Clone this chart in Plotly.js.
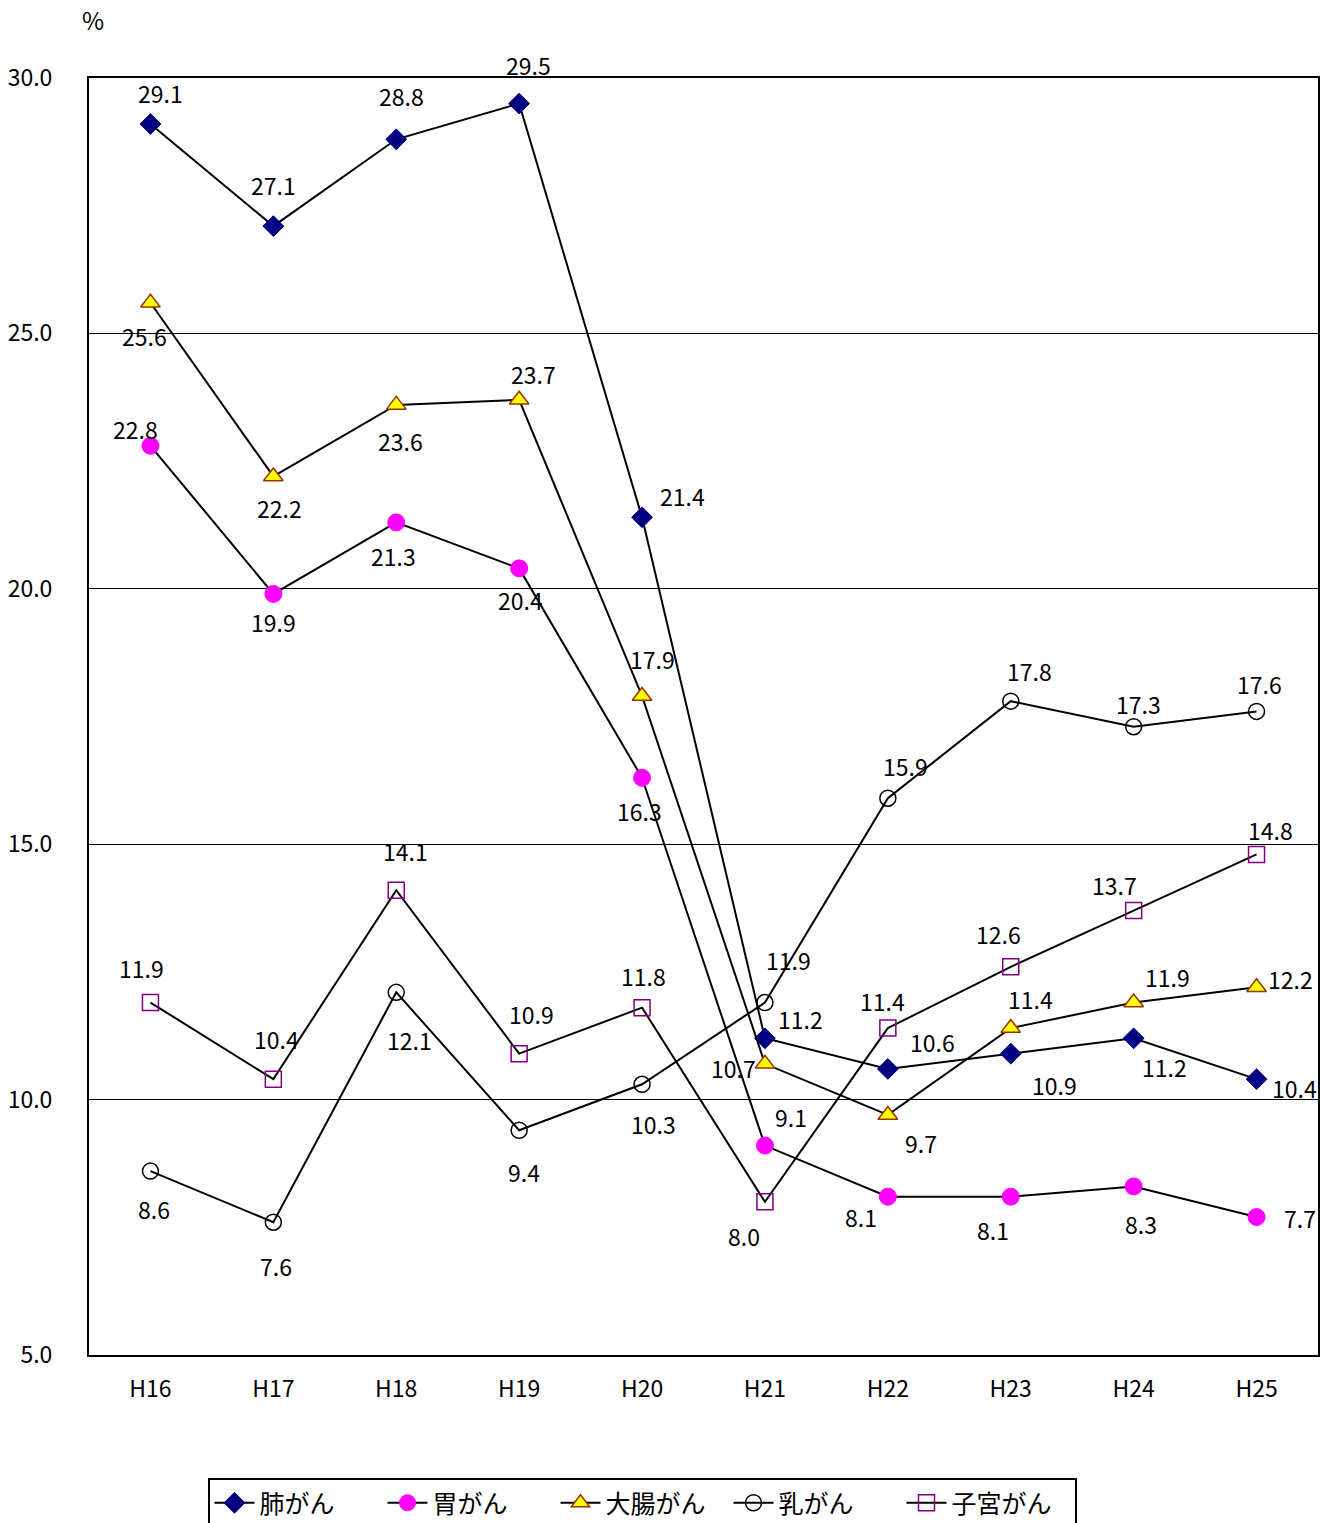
<!DOCTYPE html>
<html>
<head>
<meta charset="utf-8">
<script src="https://cdn.plot.ly/plotly-3.0.1.min.js"></script>
<style>html,body{margin:0;padding:0;background:#fff;}#chart{width:1326px;height:1523px;}</style>
</head>
<body>
<div id="chart"></div>
<script>
const years = ['H16','H17','H18','H19','H20','H21','H22','H23','H24','H25'];
const seriesNames = ['肺がん','胃がん','大腸がん','乳がん','子宮がん'];
const lung = [29.1, 27.1, 28.8, 29.5, 21.4, 11.2, 10.6, 10.9, 11.2, 10.4];
const stomach = [22.8, 19.9, 21.3, 20.4, 16.3, 9.1, 8.1, 8.1, 8.3, 7.7];
const colorectal = [25.6, 22.2, 23.6, 23.7, 17.9, 10.7, 9.7, 11.4, 11.9, 12.2];
const breast = [8.6, 7.6, 12.1, 9.4, 10.3, 11.9, 15.9, 17.8, 17.3, 17.6];
const uterine = [11.9, 10.4, 14.1, 10.9, 11.8, 8.0, 11.4, 12.6, 13.7, 14.8];
const yTicks = [5, 10, 15, 20, 25, 30];

// label offsets in pixels [dx, dy] (dy downward)
const offsets = [
  [[10,-31],[0,-41],[5,-43],[9,-39],[40,-21],[36,-19],[45,-27],[44,31],[31,29],[38,9]],
  [[-15,-17],[0,28],[-3,34],[1,32],[-3,33],[26,-29],[-27,20],[-18,33],[7,38],[43,1]],
  [[-6,33],[6,32],[4,36],[14,-26],[10,-37],[-31,4],[33,28],[20,-29],[34,-26],[34,-8]],
  [[4,38],[3,44],[13,48],[5,42],[11,40],[24,-43],[18,-32],[19,-30],[5,-23],[3,-27]],
  [[-9,-35],[3,-40],[9,-39],[12,-40],[1,-32],[-21,34],[-5,-27],[-12,-33],[-19,-26],[14,-24]]
];

const FONT = '"Noto Sans CJK JP", "Noto Sans", sans-serif';
const allData = [lung, stomach, colorectal, breast, uterine];
const markers = [
  {symbol:'diamond', size:16, color:'#000080', line:{color:'#000080', width:1}},
  {symbol:'circle', size:17, color:'#FF00FF', line:{color:'#FF00FF', width:1}},
  {symbol:'triangle-up', size:17, color:'#FFFF00', line:{color:'#993300', width:1.5}},
  {symbol:'circle-open', size:16, color:'#000000', line:{color:'#000000', width:1.5}},
  {symbol:'square-open', size:16, color:'#800080', line:{color:'#800080', width:1.5}}
];

const traces = allData.map((vals, i) => ({
  type:'scatter', mode:'lines+markers', name: seriesNames[i],
  x: years, y: vals,
  line:{color:'#000000', width:2},
  marker: markers[i]
}));

const annotations = [];
allData.forEach((vals, i) => {
  vals.forEach((v, j) => {
    annotations.push({
      x: years[j], y: v, xref:'x', yref:'y', text: v.toFixed(1), showarrow:false,
      xshift: offsets[i][j][0], yshift: -offsets[i][j][1],
      font:{family:FONT, size:23, color:'#000'}
    });
  });
});
annotations.push({xref:'paper', yref:'paper', x:(93-89)/1229, y:(1355-20)/1277, text:'%', showarrow:false,
  font:{family:FONT, size:24, color:'#000'}, xanchor:'center', yanchor:'middle'});

const layout = {
  width:1326, height:1523,
  margin:{l:89, r:8, t:78, b:168, autoexpand:false},
  paper_bgcolor:'#fff', plot_bgcolor:'#fff',
  showlegend:true,
  legend:{orientation:'h', x:(642-89)/1229, xanchor:'center', y:(1355-1478)/1277, yanchor:'top',
    bordercolor:'#000', borderwidth:2, font:{family:FONT, size:25, color:'#000'}, itemwidth:40,
    entrywidth:118, entrywidthmode:'pixels'},
  xaxis:{type:'category', range:[-0.5, 9.5], showline:true, linecolor:'#000', linewidth:2, mirror:true,
    showgrid:false, ticks:'', ticklabelstandoff:12, tickfont:{family:FONT, size:23, color:'#000'}, fixedrange:true},
  yaxis:{range:[5,30], tickvals:yTicks, ticktext:yTicks.map(v=>v.toFixed(1)), showline:true, linecolor:'#000', linewidth:2, mirror:true,
    showgrid:true, gridcolor:'#000', gridwidth:1, zeroline:false, ticks:'', ticklabelstandoff:30,
    tickfont:{family:FONT, size:23, color:'#000'}, fixedrange:true},
  annotations: annotations
};

Plotly.newPlot('chart', traces, layout, {staticPlot:true});
</script>
</body>
</html>
